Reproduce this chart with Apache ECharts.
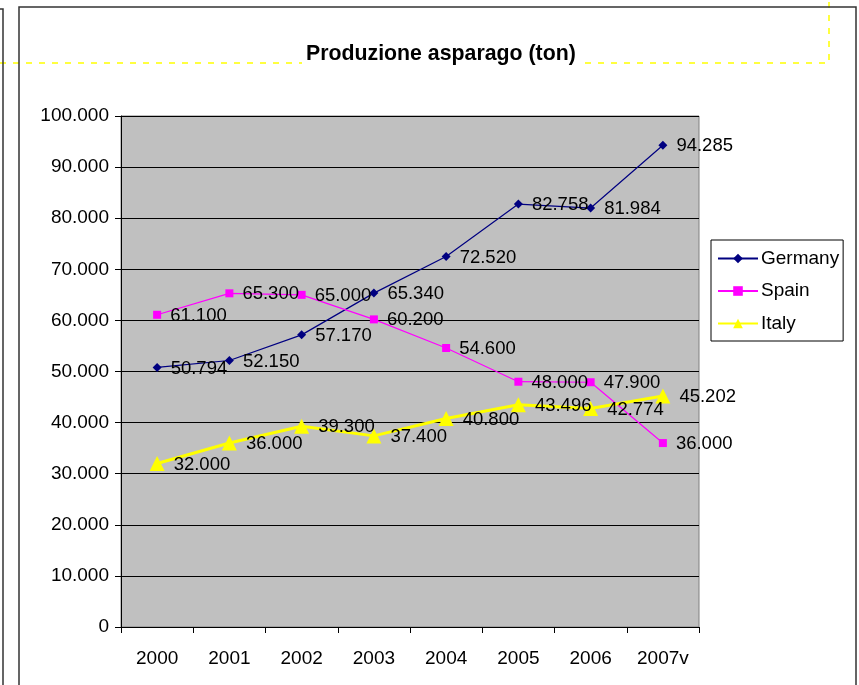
<!DOCTYPE html>
<html><head><meta charset="utf-8">
<script src="https://cdn.jsdelivr.net/npm/echarts@6/dist/echarts.min.js"></script>
<style>html,body{margin:0;padding:0;background:#fff}#c{width:859px;height:685px}</style>
</head><body><div id="c"></div>
<script>
const categories = ['2000','2001','2002','2003','2004','2005','2006','2007v'];
const germany = [50794, 52150, 57170, 65340, 72520, 82758, 81984, 94285];
const spain = [61100, 65300, 65000, 60200, 54600, 48000, 47900, 36000];
const italy = [32000, 36000, 39300, 37400, 40800, 43496, 42774, 45202];
const titleText = 'Produzione asparago (ton)';

function fmt(v){ return String(Math.round(v)).replace(/\B(?=(\d{3})+(?!\d))/g, '.'); }
const FONT = 'Arial, "Liberation Sans", sans-serif';
const lbl = {show:true, position:'right', distance:9, offset:[0,1], color:'#000', fontSize:18.5, fontFamily:FONT, formatter:p=>fmt(p.value)};

const chart = echarts.init(document.getElementById('c'), null, {renderer:'canvas'});
chart.setOption({
  backgroundColor:'#fff',
  animation:false,
  title:{text:titleText, left:302, top:43, padding:[1,4], backgroundColor:'#fff', z:20,
    textStyle:{fontSize:21.3, fontWeight:'bold', fontFamily:FONT, color:'#000'}},
  legend:{orient:'vertical', left:711, top:240, padding:[9,4,8,6], itemGap:13.5,
    borderColor:'#000', borderWidth:1, backgroundColor:'#fff', itemWidth:40, itemHeight:12,
    textStyle:{fontSize:19, fontFamily:FONT, color:'#000', padding:[0,0,0,-2]},
    data:['Germany','Spain','Italy']},
  grid:{left:121, right:160, top:116, bottom:58, show:true, backgroundColor:'#c0c0c0', borderColor:'#808080', borderWidth:1},
  xAxis:{type:'category', data:categories, boundaryGap:true,
    axisLine:{lineStyle:{color:'#000', width:1}},
    axisTick:{show:true, length:6, inside:false, lineStyle:{color:'#000'}},
    axisLabel:{fontSize:19, fontFamily:FONT, color:'#000', margin:22}},
  yAxis:{type:'value', min:0, max:100000, interval:10000,
    axisLine:{show:true, lineStyle:{color:'#000', width:1}},
    axisTick:{show:true, length:6, lineStyle:{color:'#000'}},
    splitLine:{show:true, lineStyle:{color:'#000', width:1}},
    axisLabel:{fontSize:19, fontFamily:FONT, color:'#000', margin:12, formatter:v=>fmt(v)}},
  series:[
    {name:'Germany', type:'line', data:germany, symbol:'diamond', symbolSize:9, color:'#000080',
      lineStyle:{color:'#000080', width:1.2}, itemStyle:{color:'#000080'}, label:lbl},
    {name:'Spain', type:'line', data:spain, symbol:'rect', symbolSize:8, color:'#ff00ff',
      lineStyle:{color:'#ff00ff', width:1.2}, itemStyle:{color:'#ff00ff'}, label:lbl},
    {name:'Italy', type:'line', data:italy, symbol:'triangle', symbolSize:15, color:'#ffff00',
      lineStyle:{color:'#ffff00', width:3}, itemStyle:{color:'#ffff00'}, label:lbl}
  ],
  graphic:[
    {type:'polyline', z:1, shape:{points:[[0,63],[829,63],[829,0]]}, style:{stroke:'#ffff00', lineWidth:1.5, lineDash:[6,7], fill:null}},
    {type:'rect', z:2, shape:{x:19,y:7,width:837,height:700}, style:{stroke:'#333', lineWidth:1.5, fill:null}},
    {type:'polyline', z:2, shape:{points:[[0,9],[3,9],[3,685]]}, style:{stroke:'#333', lineWidth:1.5, fill:null}}
  ]
});
</script></body></html>
